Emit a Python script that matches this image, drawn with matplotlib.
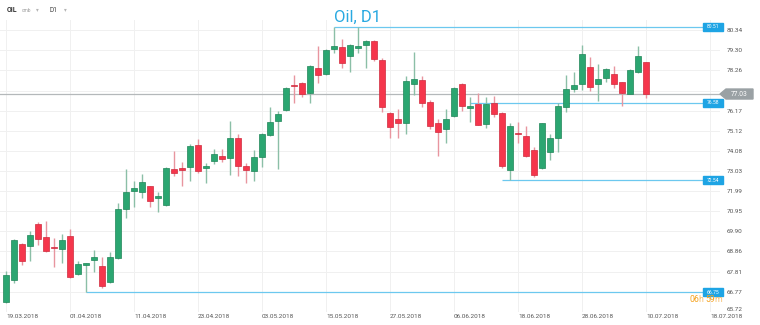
import matplotlib
matplotlib.use('Agg')
import matplotlib.pyplot as plt
from matplotlib.patches import Rectangle, Polygon
from matplotlib.transforms import blended_transform_factory
import numpy as np

plt.rcParams['font.family'] = ['Roboto', 'DejaVu Sans']

# daily OHLC, Oil D1 (19.03.2018 - 10.07.2018)
opens = [66.22, 67.37, 69.23, 69.16, 70.28, 69.62, 69.07, 68.97, 69.66, 67.70,
         68.17, 68.41, 68.10, 67.25, 68.50, 71.06, 71.98, 71.93, 72.24, 71.65,
         71.27, 73.15, 73.17, 73.23, 74.40, 73.20, 73.55, 73.80, 73.72, 74.75,
         73.29, 73.05, 73.76, 74.90, 75.61, 76.19, 77.50, 77.59, 77.07, 78.40,
         78.05, 79.38, 79.49, 79.02, 79.40, 79.58, 79.80, 78.81, 76.05, 75.75,
         75.51, 77.55, 77.76, 76.60, 75.53, 75.23, 75.89, 77.55, 76.32, 76.53,
         75.49, 76.56, 76.03, 73.09, 75.02, 74.85, 74.12, 73.17, 74.00, 74.73,
         76.37, 77.28, 77.57, 78.45, 77.54, 77.85, 78.07, 77.64, 77.05, 78.16,
         78.68]
highs = [67.84, 69.50, 69.30, 69.92, 70.40, 70.44, 69.57, 69.76, 70.01, 68.38,
         68.28, 68.92, 68.58, 68.81, 71.36, 73.12, 72.53, 72.88, 72.26, 71.93,
         73.26, 74.09, 73.49, 74.44, 74.68, 73.43, 74.18, 74.18, 75.63, 74.95,
         73.43, 74.12, 75.01, 76.34, 76.15, 77.41, 78.02, 77.65, 78.56, 79.52,
         79.35, 80.51, 79.87, 79.62, 80.49, 79.84, 79.84, 78.89, 76.10, 76.24,
         77.97, 79.20, 77.97, 76.72, 75.72, 76.25, 77.41, 77.60, 76.88, 77.10,
         76.89, 76.93, 76.08, 75.51, 75.59, 75.39, 74.30, 75.54, 74.95, 76.55,
         78.02, 78.19, 79.58, 78.97, 78.57, 78.37, 78.50, 77.65, 78.33, 79.52,
         78.71]
lows = [66.18, 67.20, 68.15, 68.38, 69.19, 68.81, 68.03, 68.27, 67.48, 67.63,
        66.75, 67.81, 66.97, 67.22, 68.45, 70.61, 71.15, 71.62, 71.16, 70.89,
        71.23, 72.79, 72.25, 72.50, 72.91, 72.43, 73.38, 73.50, 72.83, 72.79,
        72.43, 72.51, 73.24, 74.85, 73.14, 76.15, 76.55, 76.89, 76.58, 77.62,
        78.02, 79.14, 78.37, 78.16, 79.18, 78.37, 78.76, 76.11, 74.73, 74.73,
        74.95, 76.98, 76.37, 75.21, 73.83, 74.47, 75.85, 76.16, 75.56, 75.40,
        75.28, 75.82, 73.17, 72.54, 74.47, 73.74, 72.74, 73.14, 73.60, 74.00,
        76.11, 77.15, 77.24, 77.19, 76.68, 77.64, 77.33, 76.41, 77.02, 78.11,
        76.81]
closes = [67.63, 69.45, 68.36, 69.71, 69.49, 68.90, 69.02, 69.45, 67.51, 68.19,
          68.26, 68.57, 67.08, 68.58, 71.06, 71.96, 72.17, 72.48, 71.49, 71.72,
          73.19, 72.93, 73.09, 74.33, 73.05, 73.28, 73.92, 73.67, 74.75, 73.29,
          73.07, 73.76, 74.94, 75.58, 75.99, 77.36, 77.43, 77.02, 78.51, 78.02,
          79.32, 79.52, 78.63, 79.58, 79.51, 79.78, 78.85, 76.37, 75.33, 75.51,
          77.68, 77.81, 76.55, 75.39, 75.07, 75.75, 77.34, 76.42, 76.39, 75.44,
          76.53, 75.98, 73.29, 75.37, 74.95, 73.81, 72.81, 75.51, 74.73, 76.42,
          77.28, 77.50, 79.11, 77.38, 77.83, 78.33, 77.57, 77.10, 78.26, 79.02,
          77.03]

price_ticks = [65.72, 66.77, 67.81, 68.86, 69.90, 70.95, 71.99, 73.03,
               74.08, 75.12, 76.17, 77.21, 78.26, 79.30, 80.34]
date_labels = ['19.03.2018', '01.04.2018', '11.04.2018', '23.04.2018',
               '03.05.2018', '15.05.2018', '27.05.2018', '06.06.2018',
               '18.06.2018', '28.06.2018', '10.07.2018', '18.07.2018']
levels = [80.51, 76.58, 72.54, 66.75]
level_start = [41, 58, 62, 10]   # bar where each level line begins
last_price = 77.03

W, H = 760, 325
GREEN, GREEN_EDGE, GREEN_WICK = '#2ba671', '#1f8558', '#8bbfa7'
RED, RED_EDGE, RED_WICK = '#f5364c', '#cf2a3d', '#e8959f'
BLUE = '#29a9e1'

fig = plt.figure(figsize=(W / 100, H / 100), dpi=100)
fig.patch.set_facecolor('white')
ax = fig.add_axes([0, 1 - 312 / H, 720 / W, 292 / H])

x = np.arange(len(opens))
o = np.array(opens)
c = np.array(closes)
hi = np.array(highs)
lo = np.array(lows)
up = c >= o
body_bottom = np.minimum(o, c)
body_h = np.maximum(np.abs(c - o), 0.06)

ax.axhline(last_price, color='#b4b8ba', lw=0.9, zorder=1)
for lvl, start in zip(levels, level_start):
    ax.hlines(lvl, start, 87.1, color='#6cc8ef', lw=0.9, zorder=1)

ax.vlines(x[up], lo[up], hi[up], color=GREEN_WICK, lw=1, zorder=2)
ax.vlines(x[~up], lo[~up], hi[~up], color=RED_WICK, lw=1, zorder=2)
ax.bar(x[up], body_h[up], bottom=body_bottom[up], width=0.7,
       color=GREEN, edgecolor=GREEN_EDGE, lw=0.5, zorder=3)
ax.bar(x[~up], body_h[~up], bottom=body_bottom[~up], width=0.7,
       color=RED, edgecolor=RED_EDGE, lw=0.5, zorder=3)

ax.set_xlim(-0.75, 89.25)
ax.set_ylim(65.712, 80.873)
ax.set_xticks(np.arange(0, 8 * len(date_labels), 8))
ax.set_xticklabels(date_labels, ha='left')
ax.yaxis.tick_right()
ax.set_yticks(price_ticks)
ax.set_yticklabels([f'{v:.2f}' for v in price_ticks])
ax.get_yticklabels()[0].set_va('bottom')
# the last-price tag sits over this tick label
ax.get_yticklabels()[price_ticks.index(77.21)].set_visible(False)
ax.tick_params(axis='both', length=0, labelsize=4.6, labelcolor='#555555')
ax.tick_params(axis='x', pad=1.5)
ax.tick_params(axis='y', pad=5)
ax.grid(True, color='#f0f0f0', lw=0.7)
ax.set_axisbelow(True)
for s in ax.spines.values():
    s.set_visible(False)

# level price tags
ypx = (80.873 - 65.712) / 292
tag = blended_transform_factory(ax.transAxes, ax.transData)
for lvl in levels:
    ax.add_patch(Rectangle((703 / 720, lvl - 4 * ypx), 20 / 720, 8 * ypx,
                           transform=tag, color='#1ea4e4', clip_on=False, zorder=6))
    ax.text(713 / 720, lvl, f'{lvl:.2f}', transform=tag, color='white',
            fontsize=3.6, ha='center', va='center', zorder=7, clip_on=False)

# last price arrow
ftag = blended_transform_factory(fig.transFigure, ax.transData)
pts = [(720 / W, last_price), (726 / W, last_price + 5 * ypx),
       (753 / W, last_price + 5 * ypx), (753 / W, last_price - 5 * ypx),
       (726 / W, last_price - 5 * ypx)]
fig.add_artist(Polygon(pts, closed=True, transform=ftag, color='#9aa1a4', zorder=5))
fig.text(739 / W, last_price, f'{last_price:.2f}', transform=ftag, color='white',
         fontsize=4.8, ha='center', va='center', zorder=6)

# header and title
fig.text(357 / W, 1 - 17 / H, 'Oil, D1', color=BLUE, fontsize=12,
         ha='center', va='center')
fig.text(7 / W, 1 - 10 / H, 'OIL', color='#333333', fontsize=5,
         fontweight='bold', va='center')
fig.text(22 / W, 1 - 10 / H, 'cmb', color='#9a9a9a', fontsize=3.4, va='center')
fig.text(36 / W, 1 - 10 / H, '\u25be', color='#b5b5b5', fontsize=4,
         va='center', family='DejaVu Sans')
fig.text(49 / W, 1 - 10 / H, 'D1', color='#444444', fontsize=4.8, va='center')
fig.text(64 / W, 1 - 10 / H, '\u25be', color='#b5b5b5', fontsize=4,
         va='center', family='DejaVu Sans')

# candle countdown
for txt, xp, col in [('06', 689, '#f5a21f'), ('h', 698, '#f6bd6a'),
                     ('59', 705, '#f5a21f'), ('m', 714, '#f6bd6a')]:
    fig.text(xp / W, 1 - 299 / H, txt, color=col, fontsize=6.3, va='center')

fig.savefig('out.png', dpi=100, facecolor='white')
